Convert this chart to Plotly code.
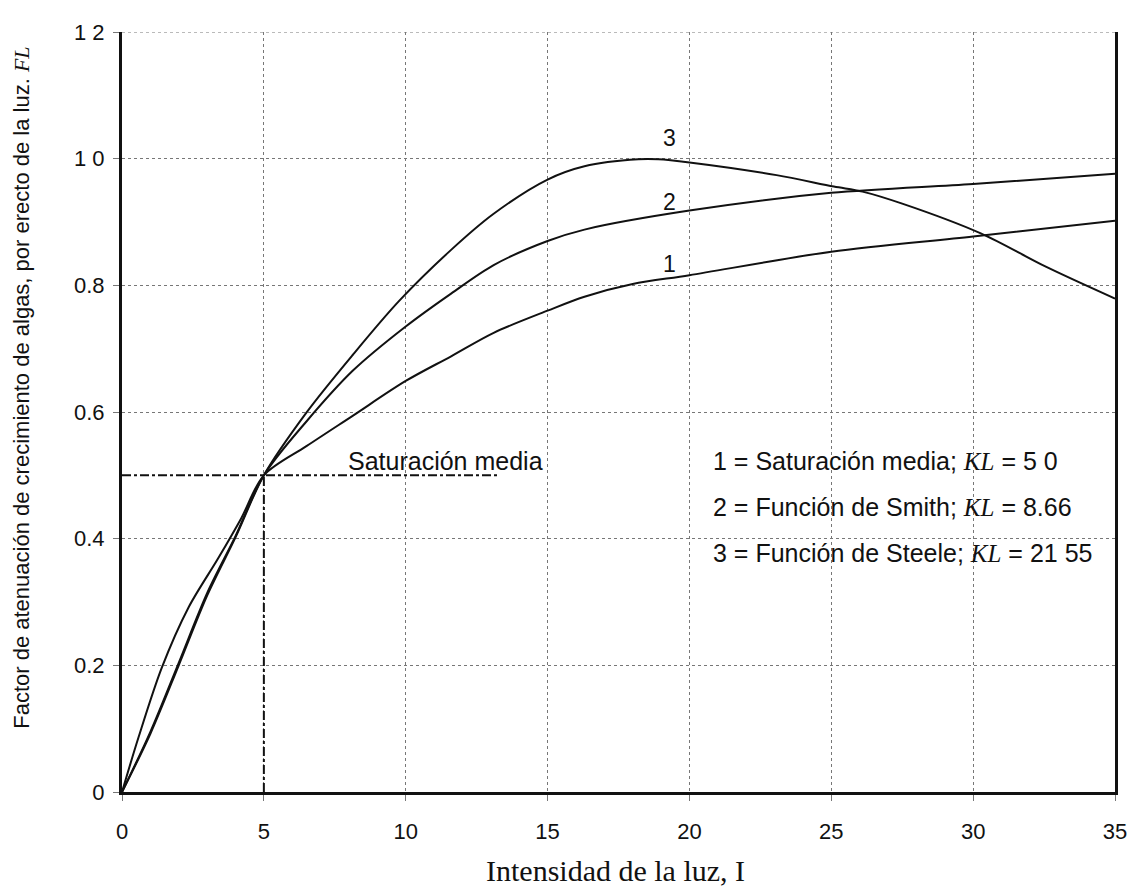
import plotly.graph_objects as go

# ---- data ----
x1 = [0, 0.58, 1.4, 2.34, 3.39, 4.2, 5, 6.5, 8.13, 10, 11.6, 13.1, 15, 16.3, 18.0, 20, 25, 30, 35]
y1 = [0, 0.086, 0.196, 0.291, 0.369, 0.432, 0.5, 0.546, 0.594, 0.649, 0.688, 0.725, 0.760, 0.782, 0.802, 0.816, 0.853, 0.877, 0.902]

x2 = [0, 1, 2, 3, 4, 5, 6.5, 8.13, 10, 11.6, 13.1, 15, 16.3, 20, 25, 30, 35]
y2 = [0, 0.095, 0.204, 0.314, 0.404, 0.5, 0.585, 0.665, 0.735, 0.787, 0.832, 0.870, 0.888, 0.918, 0.946, 0.960, 0.976]

x3 = [0, 1, 2, 3, 4, 5, 6.5, 8.13, 9.76, 11.6, 13.1, 15, 16.3, 18.2, 18.9, 20, 23.07, 25.09, 26.1, 27.5, 30.27, 32.58, 35]
y3 = [0, 0.092, 0.200, 0.310, 0.402, 0.5, 0.599, 0.690, 0.775, 0.856, 0.913, 0.967, 0.988, 0.999, 0.999, 0.994, 0.974, 0.956, 0.948, 0.929, 0.882, 0.829, 0.779]

sat_x = [0, 13.3]
sat_y = [0.5, 0.5]
vline_x = [5, 5]
vline_y = [0, 0.5]

x_ticks = [0, 5, 10, 15, 20, 25, 30, 35]
x_tick_text = ["0", "5", "10", "15", "20", "25", "30", "35"]
y_ticks = [0, 0.2, 0.4, 0.6, 0.8, 1.0, 1.2]
y_tick_text = ["0", "0.2", "0.4", "0.6", "0.8", "1 0", "1 2"]

curve_labels = ["1", "2", "3"]
curve_label_x = [19.3, 19.3, 19.3]
curve_label_y = [0.834, 0.932, 1.032]

KL = "<span style='font-family:Liberation Serif'><i>KL</i></span>"
legend_lines = [
    "1 = Saturación media; " + KL + " = 5 0",
    "2 = Función de Smith; " + KL + " = 8.66",
    "3 = Función de Steele; " + KL + " = 21 55",
]
legend_y = [0.522, 0.450, 0.378]

BLACK = "#111111"
SANS = "Liberation Sans, Arial, sans-serif"
SERIF = "Liberation Serif, Times New Roman, serif"

fig = go.Figure()
for xs, ys in [(x1, y1), (x2, y2), (x3, y3)]:
    fig.add_trace(go.Scatter(x=xs, y=ys, mode="lines",
                             line=dict(color=BLACK, width=2, shape="spline", smoothing=0.9),
                             showlegend=False, hoverinfo="skip"))
fig.add_trace(go.Scatter(x=sat_x, y=sat_y, mode="lines",
                         line=dict(color=BLACK, width=2, dash="dashdot"), showlegend=False))
fig.add_trace(go.Scatter(x=vline_x, y=vline_y, mode="lines",
                         line=dict(color=BLACK, width=2, dash="dashdot"), showlegend=False))

for t, xx, yy in zip(curve_labels, curve_label_x, curve_label_y):
    fig.add_annotation(x=xx, y=yy, text=t, showarrow=False, font=dict(family=SANS, size=23, color=BLACK))

fig.add_annotation(x=7.9, y=0.522, text="Saturación media", showarrow=False, xanchor="left",
                   font=dict(family=SANS, size=25, color=BLACK))
for t, yy in zip(legend_lines, legend_y):
    fig.add_annotation(x=20.75, y=yy, text=t, showarrow=False, xanchor="left",
                       font=dict(family=SANS, size=25, color=BLACK))

fig.add_annotation(xref="paper", yref="paper", x=0.497, y=-0.103, xanchor="center", yanchor="middle",
                   text="Intensidad de la luz, I", showarrow=False,
                   font=dict(family=SERIF, size=30, color=BLACK))
fig.add_annotation(xref="paper", yref="paper", x=-0.1006, y=0.532, xanchor="center", yanchor="middle",
                   textangle=-90,
                   text="Factor de atenuación de crecimiento de algas, por erecto de la luz. "
                        "<span style='font-family:Liberation Serif'><i>FL</i></span>",
                   showarrow=False, font=dict(family=SANS, size=22, color=BLACK))

fig.add_shape(type="line", xref="paper", yref="y", x0=0, x1=1, y0=1.2, y1=1.2,
              line=dict(color="#777777", width=1, dash="dot"))

fig.update_layout(
    width=1131, height=880,
    margin=dict(l=114, r=13, t=19, b=96),
    plot_bgcolor="white", paper_bgcolor="white",
    font=dict(family=SANS, size=22, color=BLACK),
)
fig.update_xaxes(range=[0, 35], tickvals=x_ticks, ticktext=x_tick_text,
                 showgrid=True, gridcolor="#777777", gridwidth=1, griddash="dot",
                 showline=True, linecolor=BLACK, linewidth=3, mirror=False,
                 ticks="outside", ticklen=6, tickcolor="#777777", ticklabelstandoff=12,
                 zeroline=False, tickfont=dict(size=22))
fig.update_yaxes(range=[0, 1.2], tickvals=y_ticks, ticktext=y_tick_text,
                 showgrid=True, gridcolor="#777777", gridwidth=1, griddash="dot",
                 showline=True, linecolor=BLACK, linewidth=3, mirror=True,
                 ticks="outside", ticklen=6, tickcolor="#777777", ticklabelstandoff=4,
                 zeroline=False, tickfont=dict(size=22))

fig.write_html("out.html")
